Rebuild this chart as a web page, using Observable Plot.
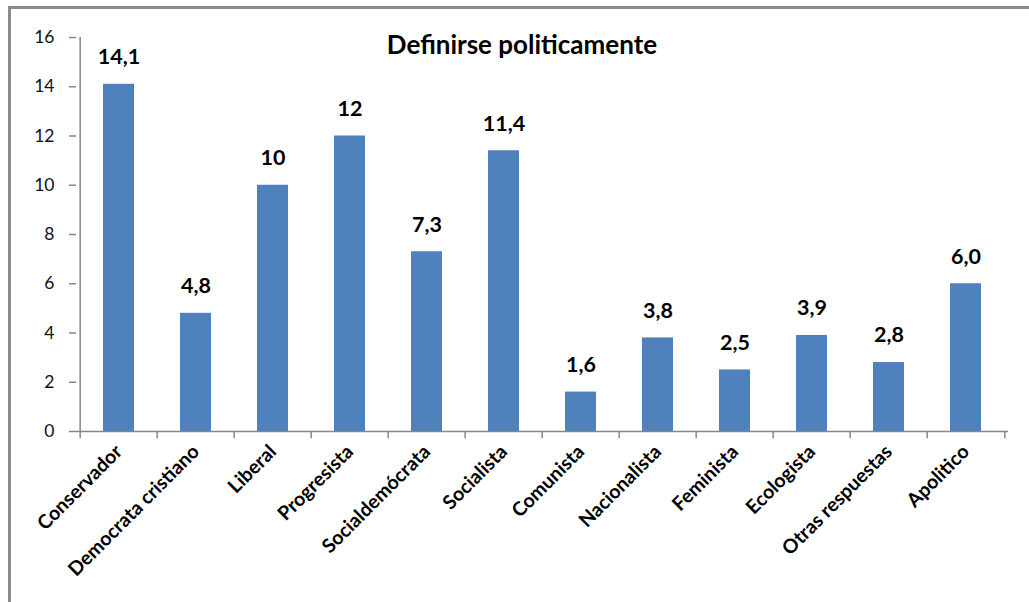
<!DOCTYPE html>
<html>
<head>
<meta charset="utf-8">
<script src="https://cdn.jsdelivr.net/npm/d3@7"></script>
<script src="https://cdn.jsdelivr.net/npm/@observablehq/plot@0.6"></script>
<style>
  html, body { margin: 0; padding: 0; background: #fff; }
  #wrap { position: relative; width: 1029px; height: 602px; overflow: hidden; background: #fff; }
  #frame { position: absolute; left: 8px; top: 6px; width: 1100px; height: 700px;
           border-left: 3px solid #8a8a8a; border-top: 3px solid #8a8a8a; box-sizing: border-box; }
  #chart { position: absolute; left: 0; top: 0; }
  #title { position: absolute; left: 522px; top: 29px; transform: translateX(-50%);
           font: bold 26px Lato, "Open Sans", sans-serif; color: #000; white-space: nowrap; line-height: 1.2; }
</style>
</head>
<body>
<div id="wrap">
  <div id="frame"></div>
  <div id="chart"></div>
  <div id="title">Definirse politicamente</div>
</div>
<script>
const categories = ["Conservador", "Democrata cristiano", "Liberal", "Progresista", "Socialdemócrata", "Socialista", "Comunista", "Nacionalista", "Feminista", "Ecologista", "Otras respuestas", "Apolitico"];
const values = [14.1, 4.8, 10, 12, 7.3, 11.4, 1.6, 3.8, 2.5, 3.9, 2.8, 6.0];
const valueLabels = ["14,1", "4,8", "10", "12", "7,3", "11,4", "1,6", "3,8", "2,5", "3,9", "2,8", "6,0"];
const yTicks = [0, 2, 4, 6, 8, 10, 12, 14, 16];

const data = categories.map((c, i) => ({cat: c, value: values[i], label: valueLabels[i]}));

const W = 1029, H = 602;
const mL = 76, mR = 21, mT = 37, mB = 171;
const step = (W - mL - mR) / categories.length;
const font = "Lato, 'Open Sans', sans-serif";

const chart = Plot.plot({
  width: W,
  height: H,
  marginLeft: mL,
  marginRight: mR,
  marginTop: mT,
  marginBottom: mB,
  style: {fontFamily: font, background: "transparent", overflow: "visible"},
  x: {domain: categories, paddingInner: 0.6, paddingOuter: 0.3, label: null},
  y: {domain: [0, 16], label: null},
  marks: [
    Plot.barY(data, {x: "cat", y: "value", fill: "#4F81BD"}),
    Plot.ruleY([0], {stroke: "#868686", strokeWidth: 1.5}),
    Plot.ruleX([0], {x: () => categories[0], dx: -step / 2, y1: 0, y2: 16, stroke: "#868686", strokeWidth: 1.5}),
    Plot.ruleX(categories, {x: d => d, dx: -step / 2, y1: 0, y2: -0.29, stroke: "#868686", strokeWidth: 1.5}),
    Plot.ruleX([categories[categories.length - 1]], {x: d => d, dx: step / 2, y1: 0, y2: -0.29, stroke: "#868686", strokeWidth: 1.5}),
    Plot.axisY({ticks: yTicks, tickSize: 7, tickPadding: 15, tickFormat: d => String(d), stroke: "#868686", fontSize: 17.5, fill: "#111", strokeWidth: 1.5}),
    Plot.axisX({tickSize: 0, tickRotate: -45, tickPadding: 17, fontSize: 19.5, fontWeight: "bold", fill: "#000"}),
    Plot.text(data, {x: "cat", y: "value", text: "label", dy: -27, fontSize: 21.5, fontWeight: "bold", fill: "#000"})
  ]
});
document.getElementById("chart").appendChild(chart);
</script>
</body>
</html>
